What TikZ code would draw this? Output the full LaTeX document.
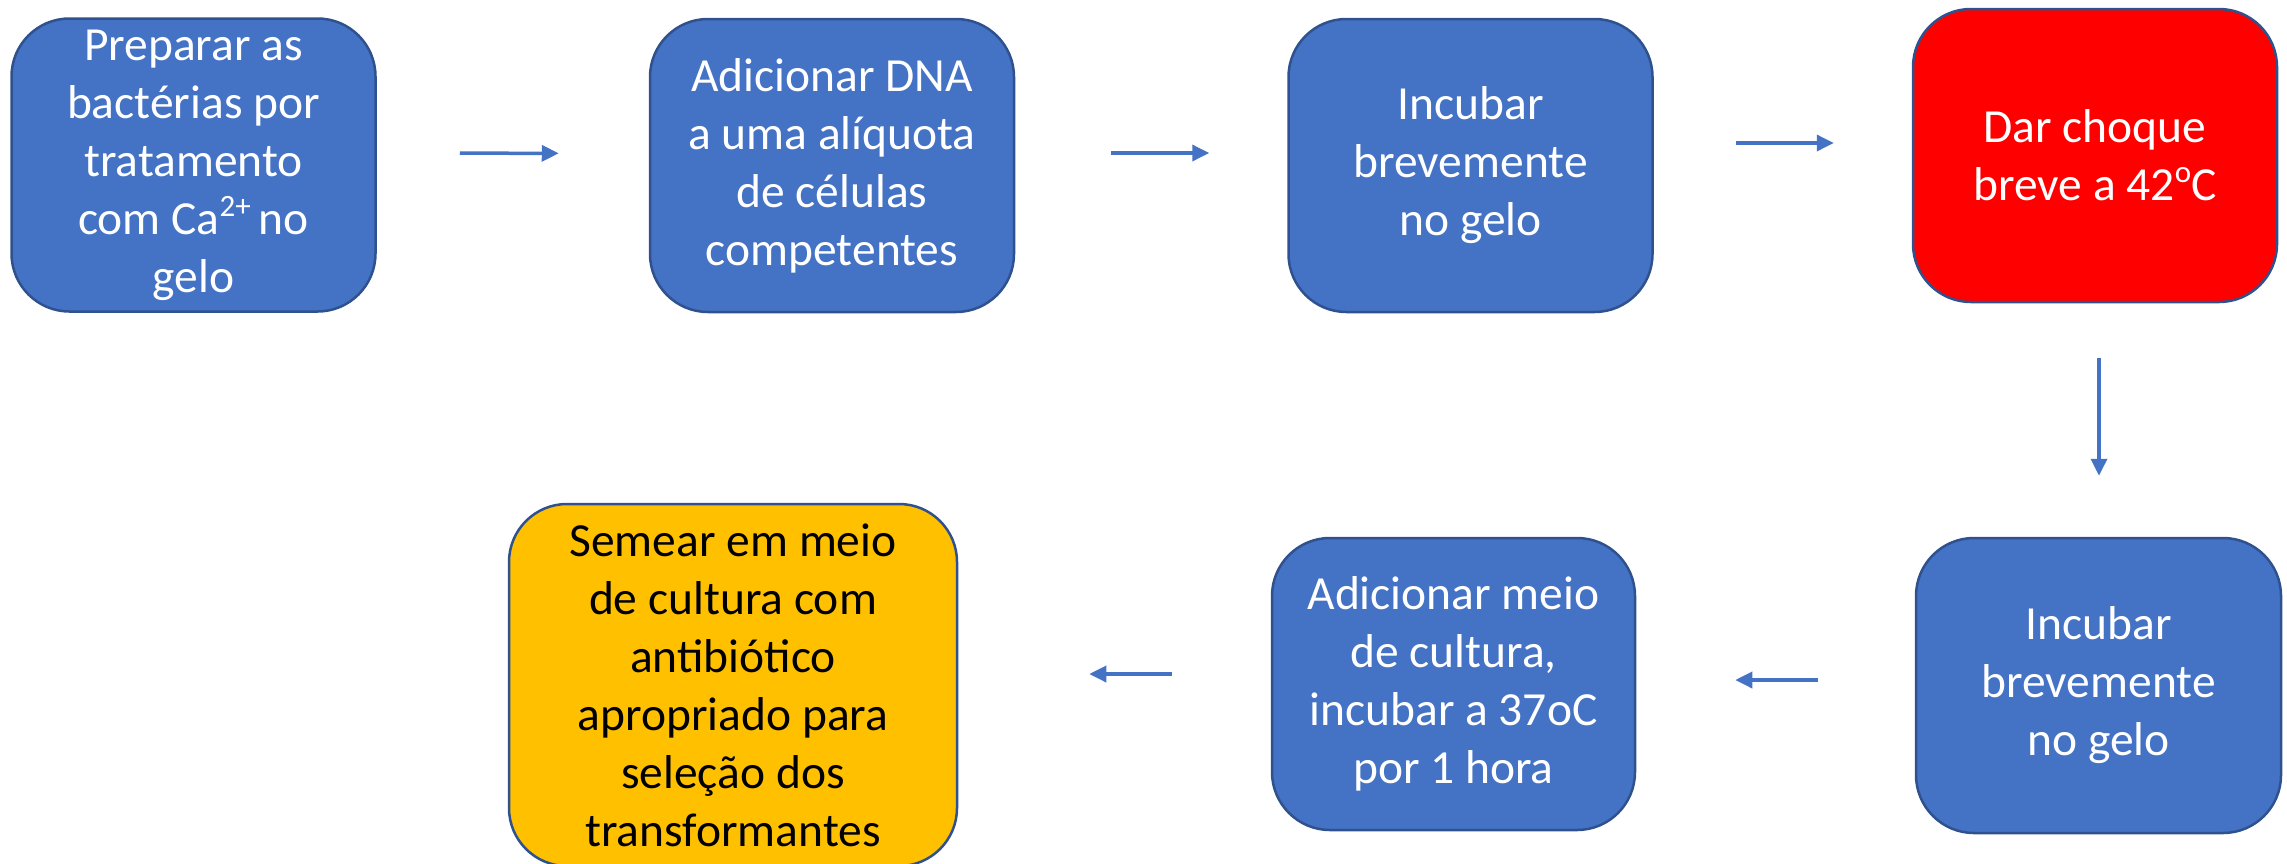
\documentclass[tikz,border=0pt]{standalone}
\usepackage{fontspec}
\setmainfont{Carlito}
\usetikzlibrary{arrows.meta}
\definecolor{boxblue}{HTML}{4472C4}
\definecolor{boxedge}{HTML}{2F528F}
\definecolor{boxred}{HTML}{FF0000}
\definecolor{boxorange}{HTML}{FFC000}
\tikzset{
  stepbox/.style={draw=boxedge, line width=2.5pt, rounded corners=58pt, fill=boxblue,
    text=white, align=center, inner sep=0pt, minimum width=364pt, minimum height=293pt,
    font=\fontsize{47.5}{58}\selectfont},
  arr/.style={draw=boxblue, line width=3.5pt, -{Triangle[length=17pt,width=16pt]}}
}
\newcommand{\supx}[1]{\raisebox{0.38em}{\fontsize{31}{31}\selectfont #1}}
\begin{document}
\begin{tikzpicture}[x=1pt,y=-1pt]
\useasboundingbox (0,0) rectangle (2287,863);
\node[stepbox] (b1) at (193.5,165) {Preparar as\\bactérias por\\tratamento\\com Ca\supx{2+}\,no\\gelo};
\node[stepbox] (b2) at (832,165.5) {Adicionar DNA\\a uma alíquota\\de células\\competentes};
\node[stepbox] (b3) at (1470.5,165.5) {Incubar\\brevemente\\no gelo};
\node[stepbox, fill=boxred] (b4) at (2095,155.5) {Dar choque\\breve a 42\supx{o}C};
\node[stepbox, minimum width=365pt, minimum height=295pt] (b5) at (2098.5,685.5) {Incubar\\brevemente\\no gelo};
\node[stepbox, minimum width=363pt, minimum height=292pt] (b6) at (1453.5,684) {Adicionar meio\\de cultura,\\incubar a 37oC\\por 1 hora};
\node[stepbox, fill=boxorange, text=black, minimum width=448pt, minimum height=362pt] (b7) at (733,685) {Semear em meio\\de cultura com\\antibiótico\\apropriado para\\seleção dos\\transformantes};
\draw[arr, shorten <=83pt, shorten >=90pt] ([yshift=12pt]b1.east) -- ([yshift=12pt]b2.west);
\draw[arr, shorten <=96pt, shorten >=78pt] ([yshift=12.5pt]b2.east) -- ([yshift=12.5pt]b3.west);
\draw[arr, shorten <=82pt, shorten >=78pt] ([yshift=22.5pt]b3.east) -- ([yshift=12.5pt]b4.west);
\draw[arr, shorten <=55pt, shorten >=61pt] ([xshift=4pt]b4.south) -- ([xshift=0.5pt]b5.north);
\draw[arr, shorten <=97pt, shorten >=99pt] ([yshift=5.5pt]b5.west) -- ([yshift=4pt]b6.east);
\draw[arr, shorten <=99pt, shorten >=131pt] ([yshift=10pt]b6.west) -- ([yshift=11pt]b7.east);
\end{tikzpicture}
\end{document}
